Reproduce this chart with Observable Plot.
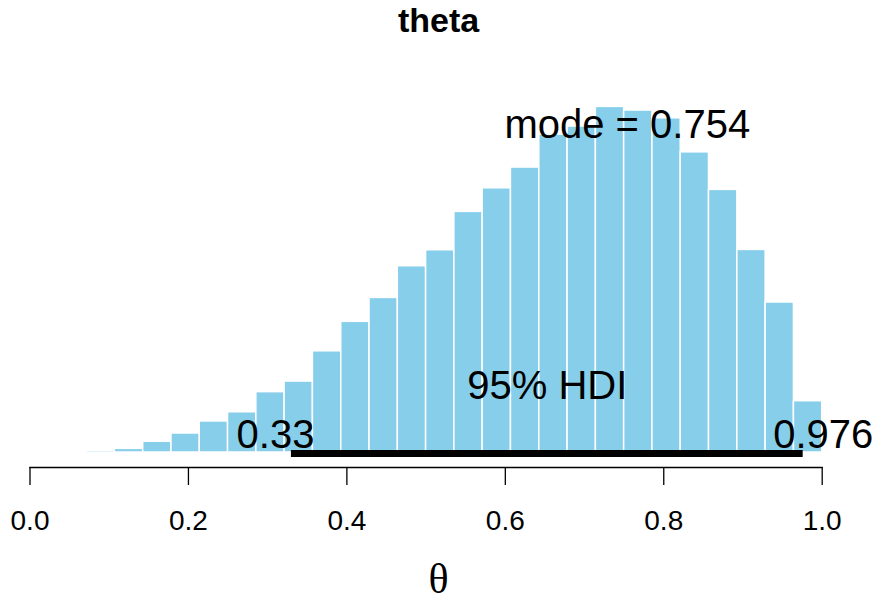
<!DOCTYPE html>
<html>
<head>
<meta charset="utf-8">
<script src="https://cdn.jsdelivr.net/npm/d3@7"></script>
<script src="https://cdn.jsdelivr.net/npm/@observablehq/plot@0.6"></script>
<style>
  html, body { margin: 0; padding: 0; background: #fff; overflow: hidden; }
  #wrap { position: relative; width: 877px; height: 602px; }
  #title {
    position: absolute; left: 0; top: 1px; width: 877px; text-align: center;
    font: bold 34px "Liberation Sans", Arial, sans-serif; line-height: 38px; color: #000;
  }
  #xlab {
    position: absolute; left: 0; top: 563px; width: 877px; text-align: center;
    font: 42px "Liberation Serif", "DejaVu Serif", serif; line-height: 32px; color: #000;
  }
</style>
</head>
<body>
<div id="wrap">
  <div id="chart"></div>
  <div id="title">theta</div>
  <div id="xlab">θ</div>
</div>
<script>
// Histogram of posterior samples of theta (density scale)
const binEdges = [0.0714, 0.1071, 0.1429, 0.1786, 0.2143, 0.25, 0.2857, 0.3214, 0.3571,
  0.3929, 0.4286, 0.4643, 0.5, 0.5357, 0.5714, 0.6071, 0.6429, 0.6786, 0.7143, 0.75,
  0.7857, 0.8214, 0.8571, 0.8929, 0.9286, 0.9643, 1.0];
const densities = [0.011, 0.023, 0.068, 0.120, 0.196, 0.254, 0.381, 0.448, 0.639,
  0.825, 0.976, 1.176, 1.277, 1.519, 1.668, 1.799, 2.007, 2.058, 2.182, 2.159,
  2.110, 1.895, 1.658, 1.279, 0.947, 0.324];

// Summary statistics
const modeValue = 0.754;
const hdiLow = 0.33;
const hdiHigh = 0.976;
const credMass = 95;

// Axis ticks
const xTicks = [0, 0.2, 0.4, 0.6, 0.8, 1.0];

const bins = densities.map((d, i) => ({x1: binEdges[i], x2: binEdges[i + 1], density: d}));
const maxDensity = d3.max(densities);
const hdi = [{lo: hdiLow, hi: hdiHigh}];

const bigFont = 40;

const chart = Plot.plot({
  width: 877,
  height: 602,
  marginLeft: 29.5,
  marginRight: 55.3,
  marginTop: 0,
  marginBottom: 135,
  style: {fontFamily: '"Liberation Sans", Arial, sans-serif', color: "#000", background: "transparent"},
  x: {domain: [0, 1]},
  y: {domain: [0, 2.5], range: [452, 56], axis: null},
  marks: [
    Plot.rectY(bins, {x1: "x1", x2: "x2", y: "density", fill: "#87CEEB", stroke: "white", strokeWidth: 1.5}),
    Plot.ruleY(hdi, {x1: "lo", x2: "hi", y: () => 0, stroke: "black", strokeWidth: 7, dy: 1}),
    Plot.text([modeValue], {x: d => d, y: () => 0.9 * maxDensity, text: d => `mode = ${d}`,
      textAnchor: "middle", lineAnchor: "bottom", fontSize: bigFont, dy: -3, fill: "black"}),
    Plot.text(hdi, {x: d => (d.lo + d.hi) / 2, y: () => 0, text: () => `${credMass}% HDI`,
      textAnchor: "middle", lineAnchor: "bottom", fontSize: bigFont, dy: -54, fill: "black"}),
    Plot.text([hdiLow], {x: d => d, y: () => 0, text: d => `${d}`,
      textAnchor: "end", lineAnchor: "bottom", fontSize: bigFont, dx: 23, dy: -5, fill: "black"}),
    Plot.text([hdiHigh], {x: d => d, y: () => 0, text: d => `${d}`,
      textAnchor: "start", lineAnchor: "bottom", fontSize: bigFont, dx: -30, dy: -5, fill: "black"}),
    Plot.frame({anchor: "bottom", stroke: "black", strokeWidth: 1.3}),
    Plot.axisX({ticks: xTicks, tickFormat: d3.format(".1f"), tickSize: 18, tickPadding: 25,
      fontSize: 28, label: null, strokeWidth: 1.3, stroke: "black", fill: "black"})
  ]
});
document.getElementById("chart").appendChild(chart);
</script>
</body>
</html>
